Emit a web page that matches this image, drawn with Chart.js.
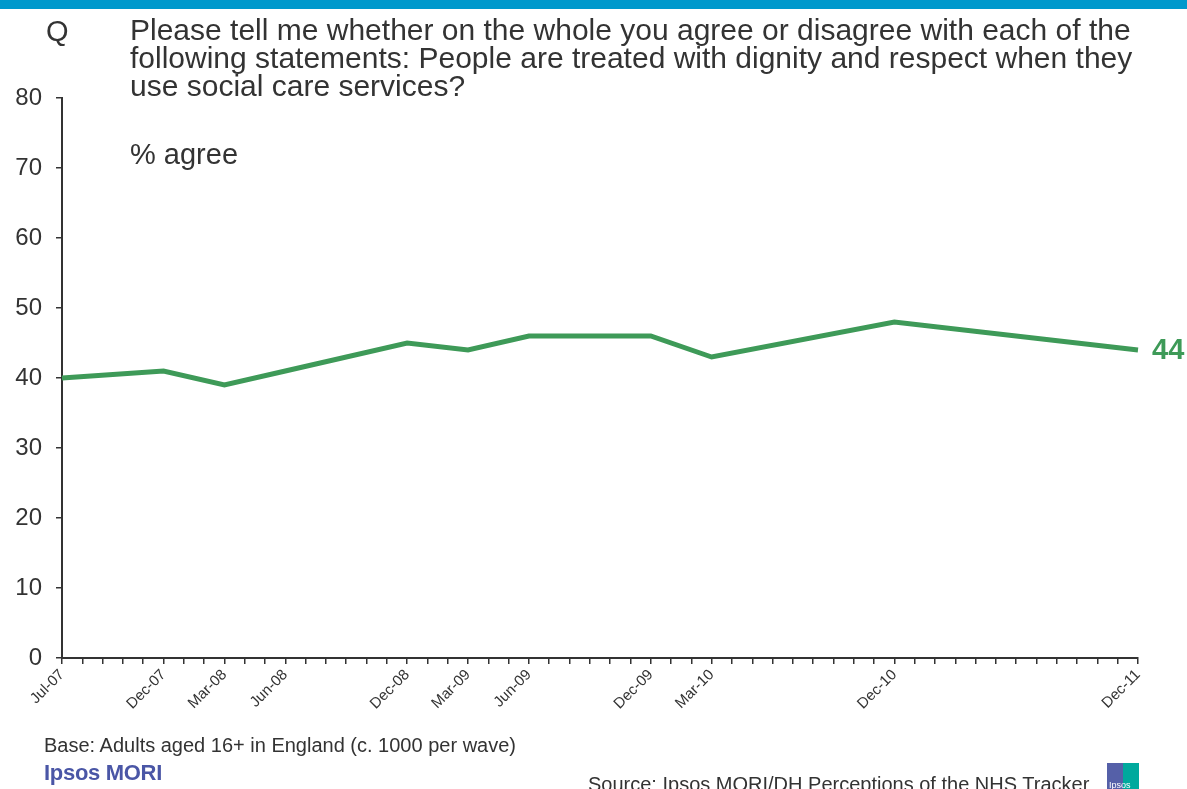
<!DOCTYPE html>
<html>
<head>
<meta charset="utf-8">
<script src="https://cdn.jsdelivr.net/npm/chart.js@4/dist/chart.umd.min.js"></script>
<style>
    html, body { margin: 0; padding: 0; background: #fff; }
    body { width: 1187px; height: 789px; position: relative; overflow: hidden; font-family: "Liberation Sans", Arial, sans-serif; color: #333; }
    #topbar { position: absolute; left: 0; top: 0; width: 1187px; height: 9px; background: #0099cc; }
    #wrap { position: absolute; left: 0; top: 0; width: 1187px; height: 789px; }
    .txt { position: absolute; white-space: nowrap; }
    #q { left: 46px; top: 15px; font-size: 29px; }
    #question { left: 130px; top: 16px; font-size: 30px; line-height: 28px; }
    #agree { left: 130px; top: 138px; font-size: 29px; }
    #base { left: 44px; top: 734px; font-size: 20px; }
    #brand { left: 44px; top: 760px; font-size: 22px; font-weight: bold; color: #4a56a6; letter-spacing: -0.3px; }
    #source { left: 588px; top: 773px; font-size: 20px; }
    #logo { position: absolute; left: 1107px; top: 763px; width: 32px; height: 26px; }
    #logo .l { position: absolute; left: 0; top: 0; width: 16px; height: 26px; background: #5560a8; }
    #logo .r { position: absolute; left: 16px; top: 0; width: 16px; height: 26px; background: #00a99d; }
    #logo .t { position: absolute; left: 2px; top: 17px; font-size: 9px; color: #fff; }
</style>
</head>
<body>
<div id="wrap"><canvas id="chart" width="1187" height="789"></canvas></div>
<div id="topbar"></div>
<div class="txt" id="q">Q</div>
<div class="txt" id="question">Please tell me whether on the whole you agree or disagree with each of the<br>following statements: People are treated with dignity and respect when they<br>use social care services?</div>
<div class="txt" id="agree">% agree</div>
<div class="txt" id="base">Base: Adults aged 16+ in England (c. 1000 per wave)</div>
<div class="txt" id="brand">Ipsos MORI</div>
<div class="txt" id="source">Source: Ipsos MORI/DH Perceptions of the NHS Tracker</div>
<div id="logo"><div class="l"></div><div class="r"></div><div class="t">Ipsos</div></div>
<script>
// Survey waves and % agree
const waves = ['Jul-07', 'Dec-07', 'Mar-08', 'Jun-08', 'Dec-08', 'Mar-09', 'Jun-09', 'Dec-09', 'Mar-10', 'Dec-10', 'Dec-11'];
const agree = [40, 41, 39, 41, 45, 44, 46, 46, 43, 48, 44];
const yTicks = [0, 10, 20, 30, 40, 50, 60, 70, 80];

// monthly axis from Jul-07 to Dec-11
const monthNames = ['Jan', 'Feb', 'Mar', 'Apr', 'May', 'Jun', 'Jul', 'Aug', 'Sep', 'Oct', 'Nov', 'Dec'];
const months = [];
for (let y = 7; y <= 11; y++) {
    for (let m = 0; m < 12; m++) {
        if (y === 7 && m < 6) continue;
        months.push(monthNames[m] + '-' + String(y).padStart(2, '0'));
    }
}

const GREEN = '#3e9a58';

const endLabel = {
    id: 'endLabel',
    afterDatasetsDraw(chart) {
        const meta = chart.getDatasetMeta(0);
        const last = meta.data[meta.data.length - 1];
        const c = chart.ctx;
        c.save();
        c.fillStyle = GREEN;
        c.font = 'bold 29px "Liberation Sans", Arial, sans-serif';
        c.textBaseline = 'middle';
        c.fillText(agree[agree.length - 1], last.x + 14, last.y + 1);
        c.restore();
    }
};

new Chart(document.getElementById('chart'), {
    type: 'line',
    data: {
        labels: months,
        datasets: [{
            data: waves.map((w, i) => ({ x: w, y: agree[i] })),
            borderColor: GREEN,
            borderWidth: 5,
            pointRadius: 0,
            tension: 0,
            borderJoinStyle: 'miter'
        }]
    },
    options: {
        responsive: false,
        animation: false,
        layout: { padding: { top: 98, right: 49, left: 0, bottom: 0 } },
        plugins: { legend: { display: false }, tooltip: { enabled: false } },
        scales: {
            x: {
                offset: false,
                border: { color: '#333', width: 2 },
                grid: { drawOnChartArea: false, drawTicks: true, tickLength: 6, color: '#333', lineWidth: 1.5 },
                ticks: {
                    autoSkip: false,
                    maxRotation: 45,
                    minRotation: 45,
                    padding: 2,
                    color: '#333',
                    font: { family: '"Liberation Sans", Arial, sans-serif', size: 15 },
                    callback: function (v) {
                        const lab = this.getLabelForValue(v);
                        return waves.includes(lab) ? lab : '';
                    }
                },
                afterFit: s => { s.height = 789 - 658; }
            },
            y: {
                min: 0,
                max: 80,
                border: { color: '#333', width: 2 },
                grid: { drawOnChartArea: false, drawTicks: true, tickLength: 6, color: '#333', lineWidth: 1.5 },
                afterBuildTicks: s => { s.ticks = yTicks.map(v => ({ value: v })); },
                ticks: {
                    padding: 14,
                    color: '#333',
                    font: { family: '"Liberation Sans", Arial, sans-serif', size: 24 }
                },
                afterFit: s => { s.width = 62; }
            }
        }
    },
    plugins: [endLabel]
});
</script>
</body>
</html>
